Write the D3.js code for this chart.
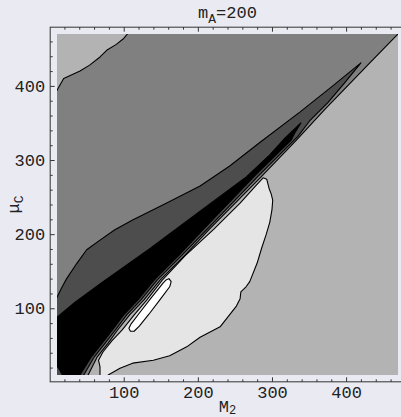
<!DOCTYPE html>
<html>
<head>
<meta charset="utf-8">
<script src="https://cdn.jsdelivr.net/npm/d3@7"></script>
<style>
  body { margin: 0; background: #eaeaf2; }
</style>
</head>
<body>
<div id="chart-area"></div>
<script>
// contour plot, m_A = 200

var svgWidth = 401, svgHeight = 417;
var margin = {left: 57, top: 34};
var plotSize = 341;

var xDomain = [10, 470];
var yDomain = [10, 470];
var majorTicks = [100, 200, 300, 400];
var minorTicks = [20, 40, 60, 80, 120, 140, 160, 180, 220, 240, 260, 280,
                  320, 340, 360, 380, 420, 440, 460];

// contour lines, [M2, muC]
var cornerLine = [[3,384],[10,394],[19,410],[41,420],[54,428],[68,439],[77,448],
                  [90,456],[100,464],[105,470],[108,477]];
var diagLine = [[477,478],[470,470],[432,431],[371,368],[333,327],[284,276],[216,207],
                [183,172],[149,138],[127,111],[108,91],[92,71],[79,53],[64,34],[52,10],[50,0]];
var wedgeUpper = [[0.6,98],[10,115],[17,129],[23,140],[37,161],[50,179],[68,192],[88,206],
                  [112,219],[158,242],[203,265],[243,292],[284,324],[338,365],[382,400],[420,431]];
var wedgeLower = [[420,431],[398,404],[376,378],[351,353],[335,332],[281,278],[214,208],
                  [179,172],[145,138],[123,111],[104,91],[89,71],[75,53],[60,34],[46,10],[45,0]];
var blackUpper = [[-13,72],[10,88],[34,108],[68,133],[136,181],[203,231],[264,276],
                  [297,307],[316,328],[339,350]];
var blackLower = [[339,350],[331,337],[326,327],[278,280],[211,210],[176,173],[141,138],
                  [119,111],[100,91],[85,71],[71,53],[56,34],[41,10],[40,0]];
var blackCorner = [[18,0],[18,9],[11,21],[-13,21]];
var blobLine = [[68,0],[68,21],[66,30],[72,41],[84,56],[98,71],[115,92],[131,111],[152,138],
                [183,171],[222,207],[257,242],[278,265],[288,276],[293,274],[296,262],[299,254],
                [301,246],[300,233],[297,216],[292,199],[286,181],[280,161],[270,136],[265,129],
                [258,122],[257,113],[252,103],[230,75],[203,61],[185,48],[162,36],[140,30],
                [112,26],[95,19],[79,10],[75,0]];
var spotLine = [[157,138],[161,140],[164,136],[162,129],[150,113],[134,92],[121,76],[114,69],
                [109,69],[107,73],[110,79],[123,96],[137,114],[149,129],[153,134]];

var svg = d3.select('#chart-area')
            .append('svg')
            .attr('width', svgWidth)
            .attr('height', svgHeight)
            .style('display', 'block');

svg.append('rect')
   .attr('width', svgWidth)
   .attr('height', svgHeight)
   .attr('fill', '#eaeaf2');

var x = d3.scaleLinear().domain(xDomain).range([margin.left, margin.left + plotSize]);
var y = d3.scaleLinear().domain(yDomain).range([margin.top + plotSize, margin.top]);

var pad = (xDomain[1] - xDomain[0]) * 0.02;
var fx0 = x(xDomain[0] - pad), fx1 = x(xDomain[1] + pad);
var fy0 = y(yDomain[0] - pad), fy1 = y(yDomain[1] + pad);

svg.append('clipPath')
   .attr('id', 'plotclip')
   .append('rect')
   .attr('x', x(xDomain[0]))
   .attr('y', y(yDomain[1]))
   .attr('width', x(xDomain[1]) - x(xDomain[0]))
   .attr('height', y(yDomain[0]) - y(yDomain[1]));

var g = svg.append('g').attr('clip-path', 'url(#plotclip)');

var line = d3.line()
             .x(function(d){ return x(d[0]); })
             .y(function(d){ return y(d[1]); });

g.append('rect')
 .attr('x', x(xDomain[0]))
 .attr('y', y(yDomain[1]))
 .attr('width', x(xDomain[1]) - x(xDomain[0]))
 .attr('height', y(yDomain[0]) - y(yDomain[1]))
 .attr('fill', '#b3b3b3');

// regions, painted from the outside in
var regions = [
  {pts: diagLine.concat([[-20,0],[-20,500],[490,500]]), fill: '#808080'},
  {pts: cornerLine.concat([[110,500],[-20,500],[-20,384]]), fill: '#b3b3b3'},
  {pts: wedgeUpper.concat(wedgeLower.slice(1), [[-20,0],[-20,98]]), fill: '#4d4d4d'},
  {pts: blackUpper.concat(blackLower.slice(1), blackCorner), fill: '#000000'},
  {pts: blobLine, fill: '#e5e5e5'},
  {pts: spotLine, fill: '#ffffff'}
];

g.selectAll('path.region')
 .data(regions)
 .enter()
 .append('path')
 .attr('class', 'region')
 .attr('d', function(d){ return line(d.pts) + 'Z'; })
 .attr('fill', function(d){ return d.fill; })
 .attr('stroke', '#000')
 .attr('stroke-width', 1.1)
 .attr('stroke-linejoin', 'round');

// frame
svg.append('rect')
   .attr('x', fx0)
   .attr('y', fy1)
   .attr('width', fx1 - fx0)
   .attr('height', fy0 - fy1)
   .attr('fill', 'none')
   .attr('stroke', '#333')
   .attr('stroke-width', 1);

var font = 'Liberation Mono, DejaVu Sans Mono, monospace';

function styleAxis(sel) {
  sel.select('.domain').remove();
  sel.selectAll('line').attr('stroke', '#333');
  sel.selectAll('text').attr('font-family', font).attr('font-size', 17).attr('fill', '#222');
}

svg.append('g').attr('transform', 'translate(0,' + fy0 + ')')
   .call(d3.axisBottom(x).tickValues(majorTicks).tickSize(-4.5).tickPadding(4))
   .call(styleAxis);
svg.append('g').attr('transform', 'translate(0,' + fy0 + ')')
   .call(d3.axisBottom(x).tickValues(minorTicks).tickSize(-2.5).tickFormat(''))
   .call(styleAxis);
svg.append('g').attr('transform', 'translate(' + fx0 + ',0)')
   .call(d3.axisLeft(y).tickValues(majorTicks).tickSize(-4.5).tickPadding(5))
   .call(styleAxis);
svg.append('g').attr('transform', 'translate(' + fx0 + ',0)')
   .call(d3.axisLeft(y).tickValues(minorTicks).tickSize(-2.5).tickFormat(''))
   .call(styleAxis);
svg.append('g').attr('transform', 'translate(0,' + fy1 + ')')
   .call(d3.axisTop(x).tickValues(majorTicks).tickSize(-4.5).tickFormat(''))
   .call(styleAxis);
svg.append('g').attr('transform', 'translate(0,' + fy1 + ')')
   .call(d3.axisTop(x).tickValues(minorTicks).tickSize(-2.5).tickFormat(''))
   .call(styleAxis);

// title and axis labels
var title = svg.append('text')
   .attr('x', (fx0 + fx1) / 2)
   .attr('y', 18)
   .attr('text-anchor', 'middle')
   .attr('font-family', font)
   .attr('font-size', 17)
   .attr('fill', '#222');
title.append('tspan').text('m');
title.append('tspan').attr('dy', 5).attr('font-size', 13).text('A');
title.append('tspan').attr('dy', -5).text('=200');

var xl = svg.append('text')
   .attr('x', (fx0 + fx1) / 2)
   .attr('y', 412)
   .attr('text-anchor', 'middle')
   .attr('font-family', font)
   .attr('font-size', 17)
   .attr('fill', '#222');
xl.append('tspan').text('M');
xl.append('tspan').attr('dy', 2).attr('font-size', 12).text('2');

var yl = svg.append('text')
   .attr('transform', 'translate(19,' + ((fy0 + fy1) / 2) + ') rotate(-90)')
   .attr('text-anchor', 'middle')
   .attr('font-family', font)
   .attr('font-size', 17)
   .attr('fill', '#222');
yl.append('tspan').text('μ');
yl.append('tspan').attr('dy', 4).attr('font-size', 13).text('C');
</script>
</body>
</html>
